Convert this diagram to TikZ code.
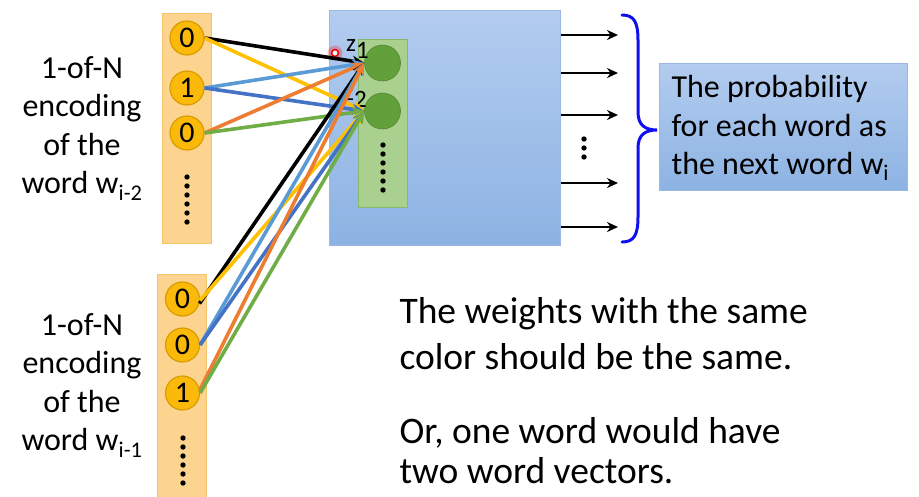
\documentclass[tikz,border=0pt]{standalone}
\usepackage{fontspec}
\setmainfont{Carlito}
\usetikzlibrary{arrows.meta}
\definecolor{colfill}{HTML}{FCD48F}
\definecolor{coledge}{HTML}{F5C46A}
\definecolor{ballfill}{HTML}{FBBA0A}
\definecolor{balledge}{HTML}{D99C00}
\definecolor{bluetop}{HTML}{B3CCEF}
\definecolor{bluebot}{HTML}{8DB3E3}
\definecolor{blueedge}{HTML}{9AB8E2}
\definecolor{greenbox}{HTML}{A9D08E}
\definecolor{greenedge}{HTML}{86B96A}
\definecolor{greenball}{HTML}{62A03C}
\definecolor{wyellow}{HTML}{FFC000}
\definecolor{wlblue}{HTML}{5B9BD5}
\definecolor{wdblue}{HTML}{4472C4}
\definecolor{worange}{HTML}{ED7D31}
\definecolor{wgreen}{HTML}{70AD47}
\definecolor{bracecol}{HTML}{1010EE}
\begin{document}
\begin{tikzpicture}[x=1pt,y=-1pt,
  column/.style={draw=coledge, line width=1pt, fill=colfill, minimum width=49pt, inner sep=0pt},
  ball/.style={circle, draw=balledge, line width=1.2pt, fill=ballfill, minimum size=34pt, inner sep=0pt, font=\fontsize{30}{30}\selectfont},
  gball/.style={circle, fill=greenball, draw=greenball!85!black, line width=0.6pt, minimum size=36pt, inner sep=0pt},
  bluebox/.style={draw=blueedge, line width=1pt, top color=bluetop, bottom color=bluebot, inner sep=0pt},
  dot/.style={circle, fill=black, minimum size=5.4pt, inner sep=0pt},
  wline/.style={line width=3.6pt, -{Stealth[length=12pt,width=11pt]}},
  outarrow/.style={line width=2.8pt, -{Stealth[length=11pt,width=10pt]}},
  lbl/.style={anchor=base, font=\fontsize{32}{32}\selectfont},
  big/.style={anchor=base west, font=\fontsize{37.5}{37.5}\selectfont},
  boxtxt/.style={anchor=base west, font=\fontsize{32}{32}\selectfont},
  zlbl/.style={font=\fontsize{25}{25}\selectfont, inner sep=0pt}
]
\useasboundingbox (0,0) rectangle (919,496);

% blue hidden-layer box
\node[bluebox, minimum width=231pt, minimum height=235pt] (hid) at (444.5,127.5) {};
% green box
\node[draw=greenedge, line width=0.8pt, fill=greenbox, minimum width=49pt, minimum height=168pt, inner sep=0pt] (gbox) at (382.5,123) {};
\node[gball] (g1) at (382.5,63) {};
\node[gball] (g2) at (382.5,111) {};
\foreach \i [count=\k] in {145,154,163,172,181,190} {\node[dot] (gd\k) at (383,\i) {};}

% labels z1, z2
\node[zlbl, anchor=base west] (z1) at (346,51) {z\textsubscript{\fontsize{25}{25}\selectfont 1}};
\node[zlbl, anchor=base west] (z2) at (344,100) {z\textsubscript{\fontsize{25}{25}\selectfont 2}};

% input columns
\node[column, minimum height=230pt] (top) at (186.5,128) {};
\node[column, minimum height=230pt] (bot) at (182,389) {};

\node[ball] (t0) at (187,38) {0};
\node[ball] (t1) at (187,88) {1};
\node[ball] (t2) at (187,133) {0};
\foreach \i [count=\k] in {177,186,195,204,213,222} {\node[dot] (td\k) at (187,\i) {};}

\node[ball] (b0) at (182.5,299) {0};
\node[ball] (b1) at (182.5,345) {0};
\node[ball] (b2) at (182.5,393) {1};
\foreach \i [count=\k] in {438,447,456,465,474,483} {\node[dot] (bd\k) at (183,\i) {};}

% cursor mark
\fill[red, opacity=0.25] (335,53) circle (7.5);
\node[circle, draw=red, line width=1.6pt, fill=white, minimum size=7pt, inner sep=0pt] (cursor) at (335,53) {};

% weights from w_{i-2}
\draw[wline, black]   (t0.east) -- (g1.west);
\draw[wline, wyellow] (t0.east) -- (g2.west);
\draw[wline, wlblue]  (t1.east) -- (g1.west);
\draw[wline, wdblue]  (t1.east) -- (g2.west);
\draw[wline, worange] (t2.east) -- (g1.west);
\draw[wline, wgreen]  (t2.east) -- (g2.west);
% weights from w_{i-1}
\draw[wline, black]   (b0.-15) -- (g1.west);
\draw[wline, wyellow] (b0.-5) -- (g2.west);
\draw[wline, wlblue]  (b1.east) -- (g1.west);
\draw[wline, wdblue]  (b1.east) -- (g2.west);
\draw[wline, worange] (b2.10) -- (g1.west);
\draw[wline, wgreen]  (b2.east) -- (g2.west);

% output arrows
\foreach \y [count=\k] in {35,73,115,183,227} {
  \coordinate (os\k) at (hid.east |- 0,\y);
  \coordinate (oe\k) at (618,\y);
  \draw[outarrow] (os\k) -- (oe\k);
}
\foreach \i [count=\k] in {139,148,157} {\node[dot] (md\k) at (584,\i) {};}

% brace
\draw[bracecol, line width=3pt, line cap=round]
  (622,15) .. controls (634,15) and (638,22) .. (638,40) -- (638,112)
  .. controls (638,125) and (645,130) .. (657,130)
  .. controls (645,130) and (638,135) .. (638,148) -- (638,217)
  .. controls (638,235) and (634,242) .. (622,242);

% output text box
\node[bluebox, minimum width=248pt, minimum height=127pt] (prob) at (783,126.5) {};
\node[boxtxt] (p1) at (668,97) {The probability};
\node[boxtxt] (p2) at (668,136) {for each word as};
\node[boxtxt] (p3) at (668,174) {the next word w\textsubscript{i}};

% left labels
\node[lbl] (l1) at (82,78) {1-of-N};
\node[lbl] (l2) at (82,116.5) {encoding};
\node[lbl] (l3) at (82,155) {of the};
\node[lbl] (l4) at (82,193.5) {word w\textsubscript{i-2}};
\node[lbl] (m1) at (82,335) {1-of-N};
\node[lbl] (m2) at (82,373.5) {encoding};
\node[lbl] (m3) at (82,412) {of the};
\node[lbl] (m4) at (82,450.5) {word w\textsubscript{i-1}};

% notes
\node[big] (n1) at (396,323) {The weights with the same};
\node[big] (n2) at (396,369) {color should be the same.};
\node[big] (n3) at (396,443) {Or, one word would have};
\node[big] (n4) at (396,483) {two word vectors.};
\end{tikzpicture}
\end{document}
